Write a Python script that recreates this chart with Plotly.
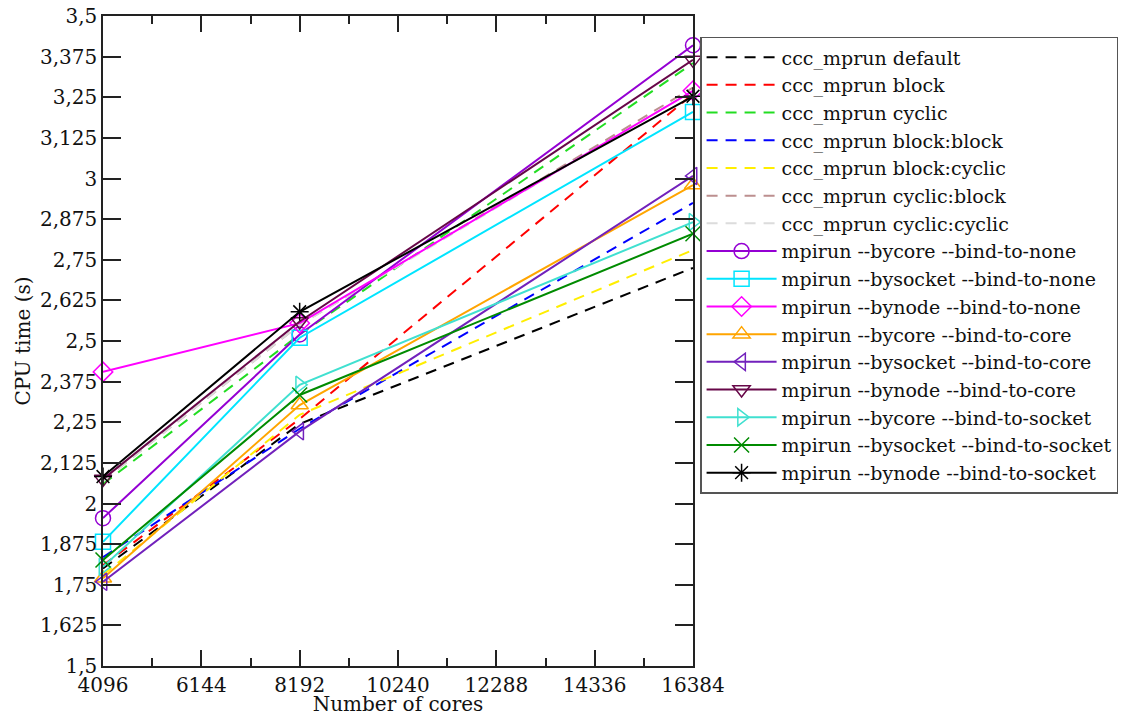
import plotly.graph_objects as go

cores = [4096, 8192, 16384]

# ccc_mprun series (dashed)
ccc_default = [1.80, 2.245, 2.725]
ccc_block = [1.81, 2.26, 3.26]
ccc_cyclic = [2.06, 2.52, 3.355]
ccc_block_block = [1.835, 2.23, 2.925]
ccc_block_cyclic = [1.78, 2.273, 2.78]
ccc_cyclic_block = [2.07, 2.55, 3.28]
ccc_cyclic_cyclic = [2.07, 2.55, 3.27]

# mpirun series (solid + markers)
bycore_none = [1.955, 2.52, 3.41]
bysocket_none = [1.882, 2.51, 3.205]
bynode_none = [2.405, 2.555, 3.27]
bycore_core = [1.77, 2.303, 2.98]
bysocket_core = [1.759, 2.222, 3.008]
bynode_core = [2.075, 2.56, 3.365]
bycore_socket = [1.805, 2.365, 2.866]
bysocket_socket = [1.826, 2.334, 2.83]
bynode_socket = [2.083, 2.59, 3.253]

y_tickvals = [1.5, 1.625, 1.75, 1.875, 2, 2.125, 2.25, 2.375, 2.5,
              2.625, 2.75, 2.875, 3, 3.125, 3.25, 3.375, 3.5]
y_ticktext = ["1,5", "1,625", "1,75", "1,875", "2", "2,125", "2,25", "2,375", "2,5",
              "2,625", "2,75", "2,875", "3", "3,125", "3,25", "3,375", "3,5"]
x_tickvals = [4096, 6144, 8192, 10240, 12288, 14336, 16384]
x_ticktext = ["4096", "6144", "8192", "10240", "12288", "14336", "16384"]

dashed = [
    ("ccc_mprun default", ccc_default, "#000000"),
    ("ccc_mprun block", ccc_block, "#ff0000"),
    ("ccc_mprun cyclic", ccc_cyclic, "#22dd22"),
    ("ccc_mprun block:block", ccc_block_block, "#0000ff"),
    ("ccc_mprun block:cyclic", ccc_block_cyclic, "#ffee00"),
    ("ccc_mprun cyclic:block", ccc_cyclic_block, "#bc8f8f"),
    ("ccc_mprun cyclic:cyclic", ccc_cyclic_cyclic, "#dcdcdc"),
]
solid = [
    ("mpirun --bycore --bind-to-none", bycore_none, "#9400d3", "circle-open"),
    ("mpirun --bysocket --bind-to-none", bysocket_none, "#00e5ff", "square-open"),
    ("mpirun --bynode --bind-to-none", bynode_none, "#ff00ff", "diamond-open"),
    ("mpirun --bycore --bind-to-core", bycore_core, "#ffa500", "triangle-up-open"),
    ("mpirun --bysocket --bind-to-core", bysocket_core, "#7221bc", "triangle-left-open"),
    ("mpirun --bynode --bind-to-core", bynode_core, "#670748", "triangle-down-open"),
    ("mpirun --bycore --bind-to-socket", bycore_socket, "#40e0d0", "triangle-right-open"),
    ("mpirun --bysocket --bind-to-socket", bysocket_socket, "#008b00", "x-thin-open"),
    ("mpirun --bynode --bind-to-socket", bynode_socket, "#000000", "asterisk-open"),
]

fig = go.Figure()
for name, ys, col in dashed:
    fig.add_trace(go.Scatter(x=cores, y=ys, name=name, mode="lines", cliponaxis=False,
                             line=dict(color=col, width=2, dash="11px,8px")))
for name, ys, col, sym in solid:
    fig.add_trace(go.Scatter(x=cores, y=ys, name=name, mode="lines+markers", cliponaxis=False,
                             line=dict(color=col, width=2),
                             marker=dict(symbol=sym, size=15, color=col,
                                         line=dict(color=col, width=1.5))))

fam = "DejaVu Serif, serif"
font = dict(family=fam, size=20, color="#111")

fig.update_layout(
    width=1141, height=716,
    margin=dict(l=103, r=448, t=16, b=50, autoexpand=False),
    paper_bgcolor="white", plot_bgcolor="white",
    font=font,
    showlegend=True,
    legend=dict(x=1.012, y=0.968, xanchor="left", yanchor="top",
                bordercolor="#555", borderwidth=1.5, bgcolor="white",
                font=dict(family=fam, size=19, color="#111"),
                tracegroupgap=0, itemwidth=70),
)
fig.update_xaxes(
    range=[4096, 16384], tickvals=x_tickvals, ticktext=x_ticktext,
    ticks="inside", ticklen=16, tickwidth=1.5, tickcolor="#222",
    showline=True, linecolor="#222", linewidth=1.5, mirror="ticks",
    showgrid=False, zeroline=False, automargin=False, ticklabeloverflow="allow",
    minor=dict(ticks="inside", ticklen=8, tickwidth=1.5, tickcolor="#222", dtick=1024, tick0=4096, showgrid=False),
    title=dict(text="Number of cores", standoff=0, font=font),
    tickfont=font,
)
fig.update_yaxes(
    range=[1.5, 3.5], tickvals=y_tickvals, ticktext=y_ticktext,
    ticks="inside", ticklen=18, tickwidth=1.5, tickcolor="#222",
    showline=True, linecolor="#222", linewidth=1.5, mirror="ticks",
    showgrid=False, zeroline=False, automargin=False, ticklabeloverflow="allow",
    title=dict(text="CPU time (s)", standoff=4, font=font),
    tickfont=font,
)

fig.write_html("out.html", config={"displayModeBar": False},
               post_script="document.body.style.margin='0';")
